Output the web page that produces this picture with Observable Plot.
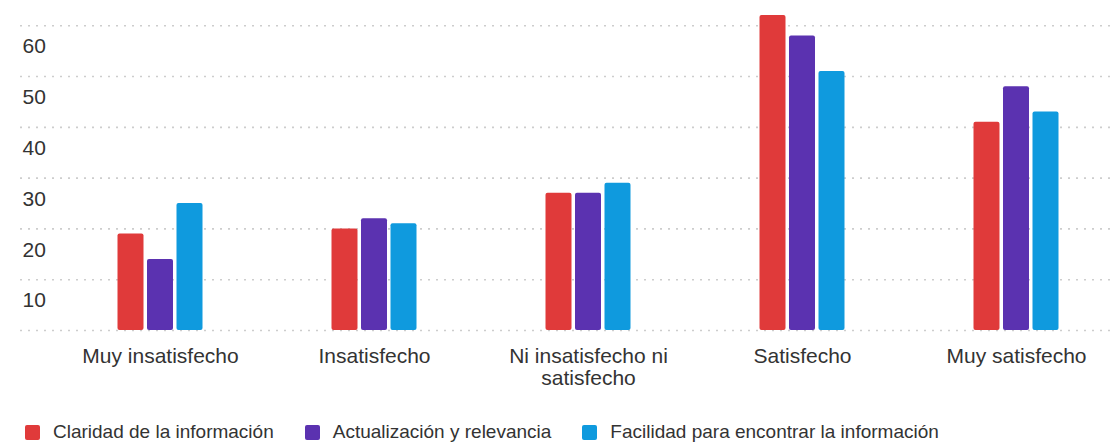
<!DOCTYPE html>
<html><head><meta charset="utf-8">
<script src="https://cdn.jsdelivr.net/npm/d3@7"></script>
<script src="https://cdn.jsdelivr.net/npm/@observablehq/plot@0.6"></script>
<style>
html,body{margin:0;padding:0;background:#fff;overflow:hidden;}
#chart{position:relative;width:1114px;height:445px;font-family:"Liberation Sans",Arial,sans-serif;}
#legend{position:absolute;left:25px;top:420px;}
#legend .lg-swatches{font-family:"Liberation Sans",Arial,sans-serif;font-size:19px;color:#333;margin:0;}
#legend .lg-swatches-wrap{min-height:24px;flex-wrap:nowrap;}
#legend .lg-swatch{margin-right:31px;}
#legend .lg-swatch > svg{margin-right:13px;}
#legend rect{rx:2px;ry:2px;}
</style></head><body><div id="chart"><div id="plot"></div><div id="legend"></div></div>
<script>
const categories = ["Muy insatisfecho", "Insatisfecho", "Ni insatisfecho ni satisfecho", "Satisfecho", "Muy satisfecho"];
const categoryLabels = ["Muy insatisfecho", "Insatisfecho", "Ni insatisfecho ni\nsatisfecho", "Satisfecho", "Muy satisfecho"];
const series = ["Claridad de la información", "Actualización y relevancia", "Facilidad para encontrar la información"];
const claridad = [19, 20, 27, 62, 41];
const actualizacion = [14, 22, 27, 58, 48];
const facilidad = [25, 21, 29, 51, 43];
const colors = ["#e03a3a", "#5b32b0", "#0f9ade"];
const yTickLabels = [10, 20, 30, 40, 50, 60];
const gridTicks = [0, 10, 20, 30, 40, 50, 60];

const valuesBySeries = [claridad, actualizacion, facilidad];
const labelOf = new Map(categories.map((c, i) => [c, categoryLabels[i]]));
const seriesData = series.map((s, j) => categories.map((c, i) => ({category: c, series: s, value: valuesBySeries[j][i]})));
const groupStep = 29.5; // bar pitch within a group

const plot = Plot.plot({
  width: 1114, height: 400,
  marginLeft: 20, marginRight: 0, marginTop: 10, marginBottom: 70,
  style: {fontFamily: "'Liberation Sans', Arial, sans-serif", fontSize: "21px", color: "#333", background: "#fff", overflow: "visible"},
  x: {domain: categories, paddingInner: 0.8785, paddingOuter: 0.4953, align: 0.599, label: null},
  y: {domain: [0, 63], axis: null},
  color: {domain: series, range: colors},
  marks: [
    Plot.ruleY(gridTicks, {y: d => d, stroke: "#cdcdcd", strokeWidth: 1.6, strokeDasharray: "2,6"}),
    ...seriesData.map((d, j) => Plot.barY(d, {x: "category", y: "value", fill: "series", dx: (j - 1) * groupStep, rx: 2})),
    Plot.text(yTickLabels, {y: d => d, text: d => String(d), frameAnchor: "left", textAnchor: "start", dx: 2, dy: 21, fontSize: 21, fill: "#333"}),
    Plot.axisX({anchor: "bottom", tickSize: 0, tickPadding: 17, tickFormat: d => labelOf.get(d), fontSize: 21, lineHeight: 1.05, fill: "#333", label: null})
  ]
});
document.getElementById("plot").appendChild(plot);

const legend = plot.legend("color", {className: "lg", swatchSize: 15});
document.getElementById("legend").appendChild(legend);
</script></body></html>
